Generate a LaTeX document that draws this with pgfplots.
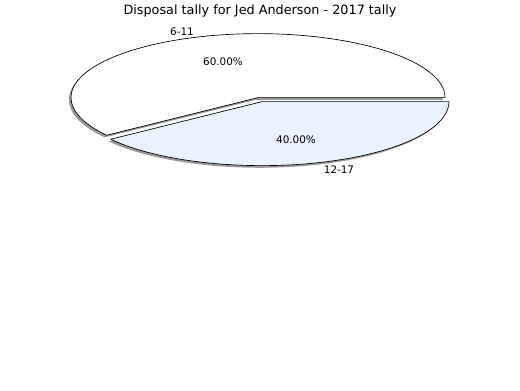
\documentclass[border=0pt]{standalone}
\usepackage{pgfplots}
\pgfplotsset{compat=1.18}
\usepackage{fontspec}
\setmainfont{DejaVu Sans}
\usetikzlibrary{calc}
\definecolor{sliceblue}{HTML}{EAF1FF}
\definecolor{shadowgray}{HTML}{999999}
\begin{document}
\begin{tikzpicture}
% slice values (6-11, 12-17)
\pgfmathsetmacro{\va}{60}
\pgfmathsetmacro{\vb}{40}
\pgfmathsetmacro{\aend}{\va/(\va+\vb)*360}
\pgfmathsetmacro{\pa}{\va/(\va+\vb)*100}
\pgfmathsetmacro{\pb}{\vb/(\va+\vb)*100}
\pgfmathsetmacro{\ex}{140.25*cos(\aend)}
\pgfmathsetmacro{\ey}{48*sin(\aend)}
\def\rx{140.25pt}
\def\ry{48pt}
\begin{axis}[scale only axis, width=390pt, height=292.5pt,
  xmin=0, xmax=520, ymin=0, ymax=390, y dir=reverse,
  axis lines=none, clip=false,
  /pgf/number format/assume math mode=true]
\path (axis cs:0,0) rectangle (axis cs:520,390);
% shadows
\fill[shadowgray] ($(axis cs:258,97)+(-1.6pt,-1.6pt)$) -- ++(\rx,0)
   arc[start angle=0, end angle=\aend, x radius=\rx, y radius=\ry] -- cycle;
\fill[shadowgray] ($(axis cs:262,101)+(-1.6pt,-1.6pt)$) -- ++(\ex pt,\ey pt)
   arc[start angle=\aend, end angle=360, x radius=\rx, y radius=\ry] -- cycle;
% slices
\filldraw[fill=white, draw=black, line width=0.5pt, line join=round] (axis cs:258,97) -- ++(\rx,0)
   arc[start angle=0, end angle=\aend, x radius=\rx, y radius=\ry] -- cycle;
\filldraw[fill=sliceblue, draw=black, line width=0.5pt, line join=round] (axis cs:262,101) -- ++(\ex pt,\ey pt)
   arc[start angle=\aend, end angle=360, x radius=\rx, y radius=\ry] -- cycle;
% labels
\node[font=\fontsize{9.6pt}{11pt}\selectfont] at (axis cs:260,10) {Disposal tally for Jed Anderson - 2017 tally};
\node[font=\fontsize{7.8pt}{9pt}\selectfont] at (axis cs:182,31) {6-11};
\node[font=\fontsize{7.8pt}{9pt}\selectfont] at (axis cs:223,61) {\pgfmathprintnumber[fixed, fixed zerofill, precision=2, assume math mode=true]{\pa}\%};
\node[font=\fontsize{7.8pt}{9pt}\selectfont] at (axis cs:296,139) {\pgfmathprintnumber[fixed, fixed zerofill, precision=2, assume math mode=true]{\pb}\%};
\node[font=\fontsize{7.8pt}{9pt}\selectfont] at (axis cs:339,169) {12-17};
\end{axis}
\end{tikzpicture}
\end{document}
